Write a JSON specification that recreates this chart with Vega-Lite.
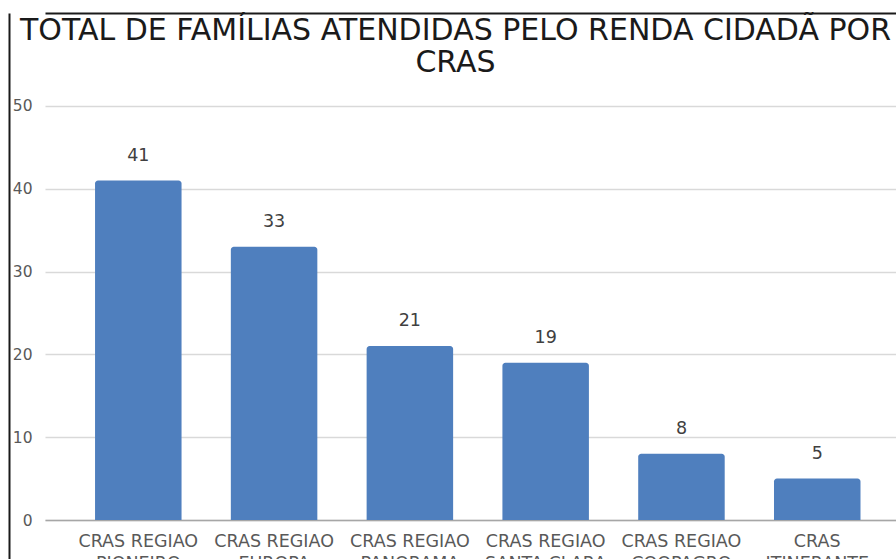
{
  "$schema": "https://vega.github.io/schema/vega-lite/v6.json",
  "width": 851,
  "height": 546,
  "autosize": {"type": "none"},
  "padding": {"left": 45, "top": 13, "right": 0, "bottom": 0},
  "background": "white",
  "config": {"view": {"stroke": null}, "font": "DejaVu Sans"},
  "title": {
    "text": ["TOTAL DE FAMÍLIAS ATENDIDAS PELO RENDA CIDADÃ POR", "CRAS"],
    "font": "DejaVu Sans",
    "fontSize": 30,
    "fontWeight": "normal",
    "color": "#1a1a1a",
    "anchor": "middle",
    "baseline": "top",
    "offset": -65,
    "lineHeight": 32,
    "dx": -15
  },
  "data": {
    "values": [
      {"cras": "CRAS REGIAO PIONEIRO", "familias": 41},
      {"cras": "CRAS REGIAO EUROPA", "familias": 33},
      {"cras": "CRAS REGIAO PANORAMA", "familias": 21},
      {"cras": "CRAS REGIAO SANTA CLARA", "familias": 19},
      {"cras": "CRAS REGIAO COOPAGRO", "familias": 8},
      {"cras": "CRAS ITINERANTE", "familias": 5}
    ]
  },
  "encoding": {
    "y": {
      "field": "familias",
      "type": "quantitative",
      "scale": {"domain": [-4.71, 61.23], "nice": false, "zero": false},
      "axis": {
        "orient": "left",
        "offset": 36,
        "title": null,
        "values": [0, 10, 20, 30, 40, 50],
        "ticks": false,
        "tickSize": 0,
        "labelPadding": -23,
        "labelFontSize": 15.5,
        "labelColor": "#595959",
        "labelFont": "DejaVu Sans",
        "domainColor": "#1a1a1a",
        "domainWidth": 2,
        "grid": true,
        "gridColor": "#d9d9d9",
        "gridWidth": 1.5
      }
    }
  },
  "layer": [
    {
      "mark": {"type": "bar", "color": "#4f7fbe", "cornerRadiusTopLeft": 3, "cornerRadiusTopRight": 3},
      "encoding": {
        "x": {
          "field": "cras",
          "type": "nominal",
          "sort": null,
          "scale": {"paddingInner": 0.363, "paddingOuter": 0.315, "align": 0.585},
          "axis": {
            "orient": "bottom",
            "offset": -39,
            "title": null,
            "labelAngle": 0,
            "labelExpr": "indexof(datum.value, 'REGIAO') >= 0 ? ['CRAS REGIAO', substring(datum.value, 12)] : ['CRAS', substring(datum.value, 5)]",
            "labelFontSize": 17.5,
            "labelFont": "DejaVu Sans",
            "labelColor": "#595959",
            "labelPadding": 12,
            "labelLineHeight": 22,
            "labelLimit": 300,
            "ticks": false,
            "tickSize": 0,
            "grid": false,
            "domainColor": "#a6a6a6",
            "domainWidth": 1.5
          }
        },
        "y2": {"datum": 0}
      }
    },
    {
      "mark": {"type": "text", "baseline": "alphabetic", "dy": -20, "fontSize": 17.5, "font": "DejaVu Sans", "color": "#404040"},
      "encoding": {
        "x": {
          "field": "cras",
          "type": "nominal",
          "sort": null,
          "scale": {"paddingInner": 0.363, "paddingOuter": 0.315, "align": 0.585},
          "axis": {
            "orient": "top",
            "title": null,
            "labels": false,
            "ticks": false,
            "grid": false,
            "domainColor": "#1a1a1a",
            "domainWidth": 2
          }
        },
        "text": {"field": "familias", "type": "quantitative"}
      }
    }
  ],
  "resolve": {"axis": {"x": "independent"}}
}
